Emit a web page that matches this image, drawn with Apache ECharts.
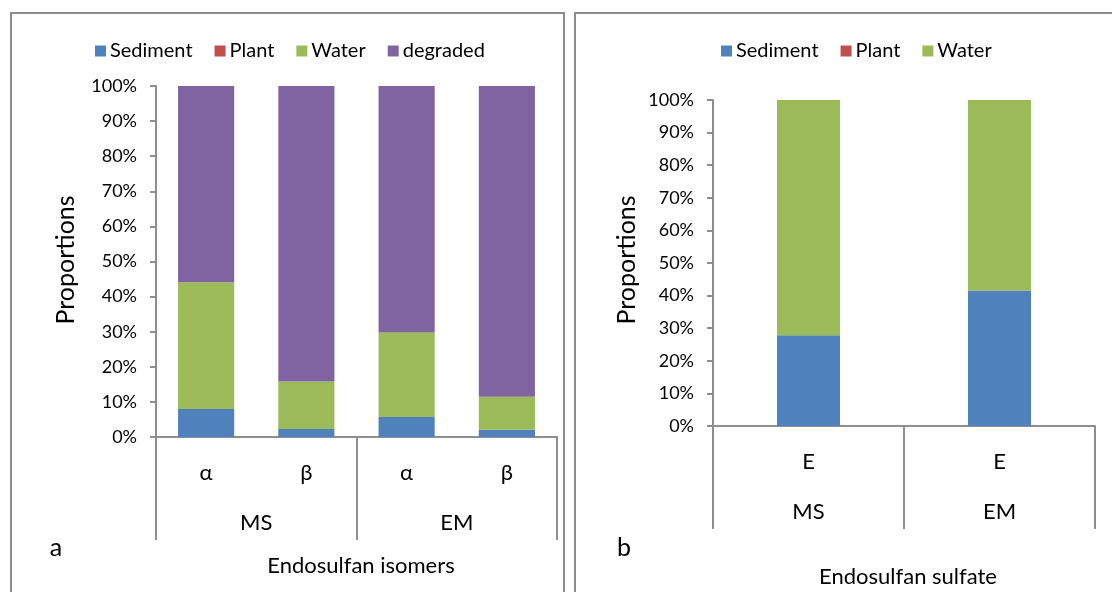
<!DOCTYPE html>
<html>
<head>
<meta charset="utf-8">
<script src="https://cdn.jsdelivr.net/npm/echarts@6/dist/echarts.min.js"></script>
<style>
  html, body { margin: 0; padding: 0; background: #fff; }
  #chart { width: 1112px; height: 592px; }
</style>
</head>
<body>
<div id="chart"></div>
<script>
// Panel a: endosulfan isomers (alpha / beta) in two systems
const isomerLabels = ['α', 'β', 'α', 'β'];
const systemLabels = ['MS', 'EM'];
const isoSediment = [8.0, 2.3, 5.7, 2.1];
const isoPlant = [0, 0, 0, 0];
const isoWater = [36.1, 13.5, 24.1, 9.4];
const isoDegraded = [55.9, 84.2, 70.2, 88.5];

// Panel b: endosulfan sulfate
const sulfateLabels = ['E', 'E'];
const sulSediment = [27.8, 41.6];
const sulPlant = [0, 0];
const sulWater = [72.2, 58.4];

const yTicks = { min: 0, max: 100, interval: 10 };

const FONT = 'Lato';
const TXT = '#000';
const AX = '#8e8e8e';
const LW = 2;
const COLORS = { Sediment: '#4F81BD', Plant: '#C0504D', Water: '#9BBB59', degraded: '#8064A2' };
const SEP = 103; // length of the group separator lines below the axis

const GRID_A = { left: 156, top: 86, width: 401, height: 351 };
const GRID_B = { left: 713, top: 100, width: 382, height: 326 };

const chart = echarts.init(document.getElementById('chart'));

function valueAxis(gridIndex) {
  return {
    type: 'value', gridIndex, min: yTicks.min, max: yTicks.max, interval: yTicks.interval,
    axisLine: { show: true, lineStyle: { color: AX, width: LW } },
    axisTick: { show: true, length: 6, lineStyle: { color: AX, width: LW } },
    splitLine: { show: false },
    axisLabel: { formatter: '{value}%', fontFamily: FONT, fontSize: 18, color: TXT, margin: 19 }
  };
}

// first row of the category axis: isomer / compound labels
function innerAxis(gridIndex, data) {
  return {
    type: 'category', gridIndex, data, position: 'bottom',
    axisLine: { show: true, lineStyle: { color: AX, width: LW } },
    axisTick: { show: false },
    axisLabel: { fontFamily: FONT, fontSize: 22, color: TXT, margin: 25, interval: 0 }
  };
}

// second row: system labels, separators drawn as graphic lines
function outerAxis(gridIndex, data) {
  return {
    type: 'category', gridIndex, data, position: 'bottom',
    axisLine: { show: false },
    axisTick: { show: false },
    axisLabel: { fontFamily: FONT, fontSize: 22, color: TXT, margin: 75, interval: 0 }
  };
}

function bar(name, data, xi, yi, stack, gap) {
  return {
    type: 'bar', name, data, stack, xAxisIndex: xi, yAxisIndex: yi,
    barCategoryGap: gap, itemStyle: { color: COLORS[name] },
    emphasis: { disabled: true }
  };
}

function legend(left, names) {
  return {
    left, top: 36, itemWidth: 11, itemHeight: 11, itemGap: 22, icon: 'rect',
    data: names, selectedMode: false,
    textStyle: { fontFamily: FONT, fontSize: 20, color: TXT, padding: [0, 0, 0, -1] }
  };
}

function text(x, y, str, size, extra) {
  return Object.assign({
    type: 'text', x, y,
    style: { text: str, font: size + 'px ' + FONT, fill: TXT, align: 'center', verticalAlign: 'middle' }
  }, extra || {});
}

// vertical group separators below the category axis: start, middle, end
function separators(g, groups) {
  const out = [];
  for (let i = 0; i <= groups; i++) {
    const x = Math.round(g.left + g.width * i / groups) - 1;
    const y = g.top + g.height;
    out.push({
      type: 'rect', z: 10, silent: true,
      shape: { x, y, width: LW, height: SEP },
      style: { fill: AX }
    });
  }
  return out;
}

chart.setOption({
  animation: false,
  grid: [Object.assign({}, GRID_A), Object.assign({}, GRID_B)],
  legend: [
    legend(90, ['Sediment', 'Plant', 'Water', 'degraded']),
    legend(716, ['Sediment', 'Plant', 'Water'])
  ],
  xAxis: [
    innerAxis(0, isomerLabels),
    outerAxis(0, systemLabels),
    innerAxis(1, sulfateLabels),
    outerAxis(1, systemLabels)
  ],
  yAxis: [valueAxis(0), valueAxis(1)],
  series: [
    bar('Sediment', isoSediment, 0, 0, 'iso', '44%'),
    bar('Plant', isoPlant, 0, 0, 'iso', '44%'),
    bar('Water', isoWater, 0, 0, 'iso', '44%'),
    bar('degraded', isoDegraded, 0, 0, 'iso', '44%'),
    bar('Sediment', sulSediment, 2, 1, 'sul', '67%'),
    bar('Plant', sulPlant, 2, 1, 'sul', '67%'),
    bar('Water', sulWater, 2, 1, 'sul', '67%')
  ],
  graphic: {
    elements: [
      { type: 'rect', shape: { x: 11, y: 13, width: 553, height: 620 }, style: { fill: 'none', stroke: '#8c8c8c', lineWidth: 2 } },
      { type: 'rect', shape: { x: 575, y: 13, width: 600, height: 620 }, style: { fill: 'none', stroke: '#8c8c8c', lineWidth: 2 } },
      ...separators(GRID_A, systemLabels.length),
      ...separators(GRID_B, systemLabels.length),
      text(66, 260, 'Proportions', 25, { rotation: Math.PI / 2 }),
      text(627, 260, 'Proportions', 25, { rotation: Math.PI / 2 }),
      text(56, 548, 'a', 25),
      text(624, 548, 'b', 25),
      text(361, 566, 'Endosulfan isomers', 22),
      text(908, 577, 'Endosulfan sulfate', 22)
    ]
  }
});
</script>
</body>
</html>
